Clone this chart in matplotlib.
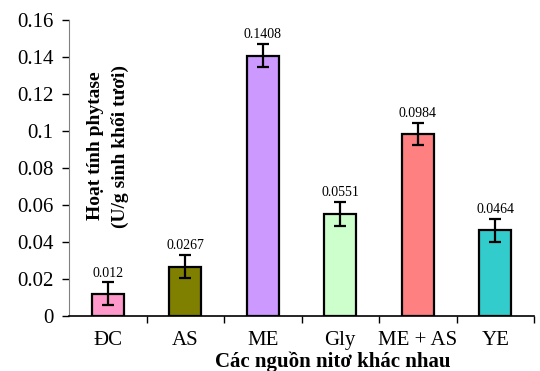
import numpy as np
import matplotlib.pyplot as plt
from matplotlib.ticker import FuncFormatter

# nitrogen sources and measured phytase activity
sources = ['ĐC', 'AS', 'ME', 'Gly', 'ME + AS', 'YE']
activity = [0.012, 0.0267, 0.1408, 0.0551, 0.0984, 0.0464]
errors = [0.0062, 0.0064, 0.0064, 0.0065, 0.0062, 0.0063]
colors = ['#FF99CC', '#808000', '#CC99FF', '#CCFFCC', '#FF8080', '#33CCCC']

plt.rcParams['font.family'] = ['Liberation Serif', 'DejaVu Serif']

fig = plt.figure(figsize=(5.4, 3.71), dpi=100)
ax = fig.add_axes([0.1278, 0.1482, 0.8611, 0.7978])

x = np.arange(len(sources))
ax.bar(x, activity, width=0.41, color=colors, edgecolor='black', linewidth=1.6, zorder=2)
ax.errorbar(x, activity, yerr=errors, fmt='none', ecolor='black',
            elinewidth=1.6, capsize=4.5, capthick=1.6, zorder=3)

for xi, v, e in zip(x, activity, errors):
    ax.annotate(f'{v:g}', (xi, v + e), xytext=(0, 2), textcoords='offset points',
                ha='center', va='bottom', fontsize=10)

ax.set_xlim(-0.5, 5.5)
ax.set_ylim(0, 0.16)
ax.set_yticks(np.arange(0, 0.161, 0.02))
ax.yaxis.set_major_formatter(FuncFormatter(lambda v, p: f'{round(v, 2):g}'))

ax.set_xticks(x)
ax.set_xticklabels(sources)
ax.set_xticks(np.arange(0.5, 6, 1), minor=True)
ax.tick_params(axis='x', which='major', length=0, pad=11, labelsize=15)
ax.tick_params(axis='x', which='minor', length=5, width=1, direction='out')
ax.tick_params(axis='y', length=5, width=1, direction='out', labelsize=15, pad=6)

for s in ['top', 'right']:
    ax.spines[s].set_visible(False)
ax.spines['left'].set_color('#808080')
ax.spines['bottom'].set_linewidth(1.2)

ax.text(0.084, 0.574, 'Hoạt tính phytase\n(U/g sinh khối tươi)', transform=ax.transAxes,
        rotation=90, ha='center', va='center', fontsize=14, fontweight='bold',
        linespacing=1.55)
fig.text(333 / 540, 1 - 362 / 371, 'Các nguồn nitơ khác nhau', ha='center', va='center',
         fontsize=15, fontweight='bold')

fig.savefig('out.png', dpi=100)
